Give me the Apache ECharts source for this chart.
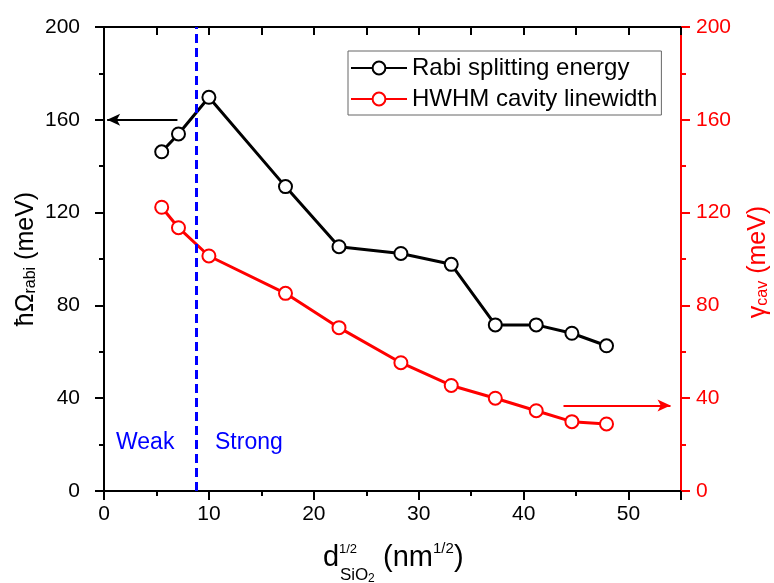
<!DOCTYPE html>
<html><head><meta charset="utf-8">
<script src="https://cdn.jsdelivr.net/npm/echarts@6/dist/echarts.min.js"></script>
<style>html,body{margin:0;padding:0;background:#fff}#c{width:774px;height:583px}</style>
</head><body><div id="c"></div>
<script>
var xVals = [5.5, 7.1, 10.0, 17.3, 22.4, 28.3, 33.1, 37.3, 41.2, 44.6, 47.9];
var rabi = [146.2, 153.9, 169.7, 131.2, 105.3, 102.4, 97.7, 71.6, 71.6, 68.0, 62.6];
var hwhm = [122.3, 113.5, 101.3, 85.2, 70.4, 55.3, 45.5, 40.0, 34.6, 29.9, 28.9];
var boundaryX = 8.76;
var leftArrow = [[7.0, 160], [0.3, 160]];
var rightArrow = [[43.8, 36.8], [54.0, 36.8]];
var xTicks = [0, 10, 20, 30, 40, 50];
var yTicks = [0, 40, 80, 120, 160, 200];
var names = ['Rabi splitting energy', 'HWHM cavity linewidth'];

var FF = '"Liberation Sans", Arial, sans-serif';
var chart = echarts.init(document.getElementById('c'));
function pair(a, b) { return a.map(function (v, i) { return [v, b[i]]; }); }
function lab(v) { return (xTicks.indexOf(v) >= 0 || yTicks.indexOf(v) >= 0) ? String(v) : ''; }
var option = {
  animation: false,
  textStyle: { fontFamily: FF },
  grid: { left: 104, right: 93, top: 27, bottom: 92 },
  legend: {
    orient: 'vertical', left: 348, top: 51,
    data: names,
    backgroundColor: '#fff', borderColor: '#666', borderWidth: 1,
    padding: [5, 4, 4, 2], itemGap: 7, itemWidth: 56, itemHeight: 16,
    textStyle: { fontSize: 24, color: '#000', fontFamily: FF }
  },
  xAxis: [{
    type: 'value', min: 0, max: 55, interval: 10, position: 'bottom',
    axisLine: { onZero: false, lineStyle: { color: '#000', width: 2 } },
    axisTick: { show: true, inside: false, length: 9, lineStyle: { width: 2, color: '#000' } },
    splitLine: { show: false },
    axisLabel: { fontSize: 21, color: '#000', margin: 13, fontFamily: FF, formatter: lab }
  }, {
    type: 'value', min: 0, max: 55, interval: 5, position: 'top',
    axisLine: { onZero: false, lineStyle: { color: '#000', width: 2 } },
    axisTick: { show: true, inside: true, length: 8, lineStyle: { width: 2, color: '#000' } },
    axisLabel: { show: false }, splitLine: { show: false }
  }, {
    type: 'value', min: 0, max: 55, interval: 5, position: 'top', offset: -464,
    axisLine: { show: false, onZero: false },
    axisTick: { show: true, inside: true, length: 5, lineStyle: { width: 2, color: '#000' } },
    axisLabel: { show: false }, splitLine: { show: false }
  }],
  yAxis: [{
    type: 'value', min: 0, max: 200, interval: 40, position: 'left',
    axisLine: { show: true, onZero: false, lineStyle: { color: '#000', width: 2 } },
    axisTick: { show: true, length: 9, lineStyle: { width: 2 } },
    minorTick: { show: true, splitNumber: 2, length: 5, lineStyle: { color: '#000', width: 2 } },
    splitLine: { show: false },
    axisLabel: { fontSize: 21, color: '#000', margin: 24, fontFamily: FF, formatter: lab }
  }, {
    type: 'value', min: 0, max: 200, interval: 40, position: 'right',
    axisLine: { show: true, onZero: false, lineStyle: { color: '#ff0000', width: 2 } },
    axisTick: { show: true, length: 9, lineStyle: { width: 2 } },
    minorTick: { show: true, splitNumber: 2, length: 5, lineStyle: { color: '#ff0000', width: 2 } },
    splitLine: { show: false },
    axisLabel: { fontSize: 21, color: '#ff0000', margin: 15, fontFamily: FF, formatter: lab }
  }],
  series: [{
    name: names[0], type: 'line', yAxisIndex: 0, data: pair(xVals, rabi),
    symbol: 'emptyCircle', symbolSize: 13,
    lineStyle: { color: '#000', width: 3 },
    itemStyle: { color: '#000', borderColor: '#000', borderWidth: 3 },
    markLine: {
      silent: true, label: { show: false }, animation: false, symbol: ['none', 'none'],
      data: [
        { xAxis: boundaryX, lineStyle: { color: '#0000ff', type: [9, 5], width: 3 } },
        [{ coord: leftArrow[0], lineStyle: { color: '#000', width: 2, type: 'solid' } },
         { coord: leftArrow[1], symbol: 'arrow', symbolSize: [9, 13] }]
      ]
    }
  }, {
    name: names[1], type: 'line', yAxisIndex: 1, data: pair(xVals, hwhm),
    symbol: 'emptyCircle', symbolSize: 13,
    lineStyle: { color: '#ff0000', width: 3 },
    itemStyle: { color: '#ff0000', borderColor: '#ff0000', borderWidth: 3 },
    markLine: {
      silent: true, label: { show: false }, animation: false, symbol: ['none', 'none'],
      data: [
        [{ coord: rightArrow[0], lineStyle: { color: '#ff0000', width: 2, type: 'solid' } },
         { coord: rightArrow[1], symbol: 'arrow', symbolSize: [9, 13] }]
      ]
    }
  }, {
    name: 'topAxisHelper', type: 'line', xAxisIndex: 1, yAxisIndex: 0, data: [], silent: true
  }, {
    name: 'minorAxisHelper', type: 'line', xAxisIndex: 2, yAxisIndex: 0, data: [], silent: true
  }],
  graphic: [
    { type: 'text', left: 116, top: 431, style: { text: 'Weak', fill: '#0000ff', fontSize: 23, fontFamily: FF } },
    { type: 'text', left: 215, top: 431, style: { text: 'Strong', fill: '#0000ff', fontSize: 23, fontFamily: FF } },
    { type: 'text', x: 25, y: 259, rotation: Math.PI / 2,
      style: { text: '{m|ħΩ}{s|rabi}{m| (meV)}', fill: '#000', align: 'center', verticalAlign: 'middle',
        rich: { m: { fontSize: 25, fontFamily: FF, verticalAlign: 'bottom', lineHeight: 28 },
                s: { fontSize: 16, fontFamily: FF, verticalAlign: 'bottom', lineHeight: 2 } } } },
    { type: 'text', x: 757, y: 262, rotation: Math.PI / 2,
      style: { text: '{m|γ}{s|cav}{m| (meV)}', fill: '#ff0000', align: 'center', verticalAlign: 'middle',
        rich: { m: { fontSize: 25, fontFamily: FF, verticalAlign: 'bottom', lineHeight: 28, color: '#ff0000' },
                s: { fontSize: 16, fontFamily: FF, verticalAlign: 'bottom', lineHeight: 2, color: '#ff0000' } } } },
    { type: 'text', x: 323, y: 558, style: { text: 'd', fill: '#000', fontSize: 29, fontFamily: FF, verticalAlign: 'middle' } },
    { type: 'text', x: 339, y: 549, style: { text: '1/2', fill: '#000', fontSize: 13, fontFamily: FF, verticalAlign: 'middle' } },
    { type: 'text', x: 340, y: 575, style: { text: 'SiO', fill: '#000', fontSize: 17, fontFamily: FF, verticalAlign: 'middle' } },
    { type: 'text', x: 368, y: 579, style: { text: '2', fill: '#000', fontSize: 12, fontFamily: FF, verticalAlign: 'middle' } },
    { type: 'text', x: 383, y: 558, style: { text: '(nm', fill: '#000', fontSize: 29, fontFamily: FF, verticalAlign: 'middle' } },
    { type: 'text', x: 433, y: 549, style: { text: '1/2', fill: '#000', fontSize: 15, fontFamily: FF, verticalAlign: 'middle' } },
    { type: 'text', x: 454, y: 558, style: { text: ')', fill: '#000', fontSize: 29, fontFamily: FF, verticalAlign: 'middle' } }
  ]
};
chart.setOption(option);
</script></body></html>
